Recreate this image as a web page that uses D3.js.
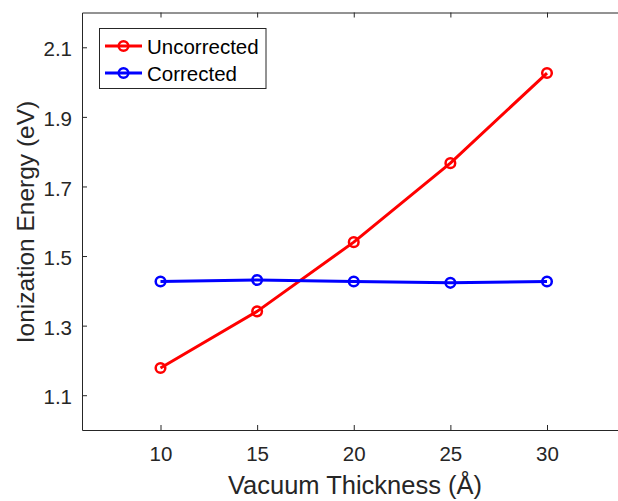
<!DOCTYPE html>
<html>
<head>
<meta charset="utf-8">
<script src="https://cdn.jsdelivr.net/npm/d3@7"></script>
<style>
  html, body { margin: 0; padding: 0; background: #fff; }
  svg { display: block; }
  text { font-family: Arial, "Liberation Sans", Helvetica, sans-serif; fill: #262626; }
</style>
</head>
<body>
<svg id="chart" width="618" height="501"></svg>
<script>
// ---- data ----
const thickness = [10, 15, 20, 25, 30];
const uncorrected = [1.178, 1.341, 1.540, 1.767, 2.026];
const corrected = [1.427, 1.431, 1.427, 1.423, 1.427];
const xTicks = [10, 15, 20, 25, 30];
const yTicks = [1.1, 1.3, 1.5, 1.7, 1.9, 2.1];
const seriesNames = ["Uncorrected", "Corrected"];
const seriesColors = ["#ff0000", "#0000ff"];

(function () {
const svg = d3.select("#chart");
const mLeft = 82, mTop = 12.5, mBottom = 430;
const pxPerUnit = (547 - 160.5) / 20;
const xMin = 10 - (160.5 - mLeft) / pxPerUnit;
const xMax = 34;
const x = d3.scaleLinear().domain([xMin, xMax]).range([mLeft, mLeft + (xMax - xMin) * pxPerUnit]);
const y = d3.scaleLinear().domain([1.0, 2.2]).range([mBottom, mTop]);

const axisColor = "#262626";

const gx = svg.append("g").attr("transform", `translate(0,${mBottom})`)
  .call(d3.axisBottom(x).tickValues(xTicks).tickSizeInner(-5).tickSizeOuter(0).tickPadding(16).tickFormat(d3.format("d")));
const gxTop = svg.append("g").attr("transform", `translate(0,${mTop})`)
  .call(d3.axisTop(x).tickValues(xTicks).tickSizeInner(-5).tickSizeOuter(0).tickFormat(""));
const gy = svg.append("g").attr("transform", `translate(${mLeft},0)`)
  .call(d3.axisLeft(y).tickValues(yTicks).tickSizeInner(-5).tickSizeOuter(0).tickPadding(10).tickFormat(d3.format(".1f")));

[gx, gxTop, gy].forEach(g => {
  g.selectAll(".domain").attr("stroke", axisColor).attr("stroke-width", 1);
  g.selectAll(".tick line").attr("stroke", axisColor).attr("stroke-width", 1);
  g.selectAll(".tick text").attr("fill", axisColor).style("font-size", "20.5px")
    .style("font-family", "Arial, 'Liberation Sans', sans-serif");
});
gy.selectAll(".tick text").attr("dy", "0.42em");

svg.append("text").attr("x", 355).attr("y", 485)
  .attr("text-anchor", "middle").attr("dominant-baseline", "central")
  .style("font-size", "25.5px").text("Vacuum Thickness (Å)");
svg.append("text").attr("transform", `translate(25,222) rotate(-90)`)
  .attr("text-anchor", "middle").attr("dominant-baseline", "central")
  .style("font-size", "24.5px").text("Ionization Energy (eV)");

const allSeries = [uncorrected, corrected];
const line = d3.line().x((d, i) => x(thickness[i])).y(d => y(d));
allSeries.forEach((vals, si) => {
  svg.append("path").datum(vals).attr("d", line)
    .attr("fill", "none").attr("stroke", seriesColors[si]).attr("stroke-width", 3)
    .attr("stroke-linejoin", "round");
  svg.append("g").selectAll("circle").data(vals).join("circle")
    .attr("cx", (d, i) => x(thickness[i])).attr("cy", d => y(d)).attr("r", 4.8)
    .attr("fill", "none").attr("stroke", seriesColors[si]).attr("stroke-width", 2.5);
});

const lg = svg.append("g");
lg.append("rect").attr("x", 99.5).attr("y", 28.5).attr("width", 166.5).attr("height", 60)
  .attr("fill", "#fff").attr("stroke", axisColor).attr("stroke-width", 1);
seriesNames.forEach((name, i) => {
  const yy = 46 + i * 27;
  lg.append("line").attr("x1", 105).attr("x2", 142).attr("y1", yy).attr("y2", yy)
    .attr("stroke", seriesColors[i]).attr("stroke-width", 3);
  lg.append("circle").attr("cx", 123.5).attr("cy", yy).attr("r", 4.8)
    .attr("fill", "none").attr("stroke", seriesColors[i]).attr("stroke-width", 2.5);
  lg.append("text").attr("x", 147).attr("y", yy).attr("dominant-baseline", "central")
    .style("font-size", "20.5px").style("fill", "#000").text(name);
});
})();
</script>
</body>
</html>
